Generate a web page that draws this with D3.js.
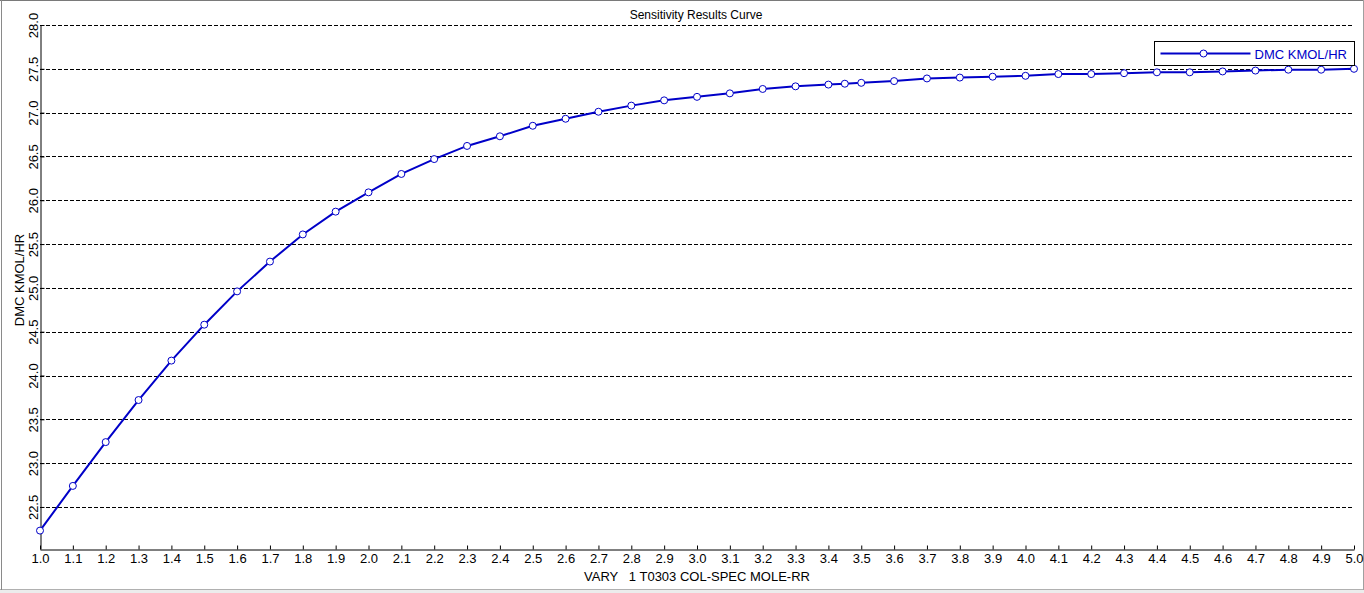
<!DOCTYPE html>
<html>
<head>
<meta charset="utf-8">
<script src="https://cdn.jsdelivr.net/npm/d3@7.9.0/dist/d3.min.js"></script>
<style>
  html, body { margin: 0; padding: 0; background: #fff; }
  svg { display: block; font-family: "Liberation Sans", Arial, sans-serif; }
</style>
</head>
<body>
<svg id="chart" width="1364" height="593"></svg>
<script>
// sensitivity case values
const rr = [1.0, 1.1, 1.2, 1.3, 1.4, 1.5, 1.6, 1.7, 1.8, 1.9,
            2.0, 2.1, 2.2, 2.3, 2.4, 2.5, 2.6, 2.7, 2.8, 2.9,
            3.0, 3.1, 3.2, 3.3, 3.4, 3.45, 3.5, 3.6, 3.7, 3.8, 3.9,
            4.0, 4.1, 4.2, 4.3, 4.4, 4.5, 4.6, 4.7, 4.8, 4.9, 5.0];
const dmc = [22.23, 22.74, 23.24, 23.72, 24.17, 24.58, 24.96, 25.30, 25.61, 25.87,
             26.09, 26.30, 26.47, 26.62, 26.73, 26.85, 26.93, 27.01, 27.08, 27.14,
             27.18, 27.22, 27.27, 27.30, 27.32, 27.33, 27.34, 27.36, 27.39, 27.40, 27.41,
             27.42, 27.44, 27.44, 27.45, 27.46, 27.46, 27.47, 27.48, 27.49, 27.49, 27.50];
const xTicks = d3.range(10, 51).map(d => d / 10);
const yTicks = d3.range(45, 57).map(d => d / 2);

const title = 'Sensitivity Results Curve';
const xLabel = 'VARY   1 T0303 COL-SPEC MOLE-RR';
const yLabel = 'DMC KMOL/HR';
const seriesName = 'DMC KMOL/HR';

const width = 1364, height = 593;
const plot = { left: 40, right: 1354, top: 25, bottom: 549 };
const blue = '#0000c8';

const svg = d3.select('#chart');

// window frame
svg.append('rect').attr('x', 0).attr('y', 589).attr('width', width).attr('height', 4).attr('fill', '#ececec');
svg.append('line').attr('x1', 0).attr('x2', width).attr('y1', 0.5).attr('y2', 0.5).attr('stroke', '#7a7a7a');
svg.append('line').attr('x1', 0).attr('x2', width).attr('y1', 589.5).attr('y2', 589.5).attr('stroke', '#b0b0b0');
svg.append('line').attr('x1', 1.5).attr('x2', 1.5).attr('y1', 0).attr('y2', 590).attr('stroke', '#8a8a8a');
svg.append('line').attr('x1', 1363.5).attr('x2', 1363.5).attr('y1', 0).attr('y2', 590).attr('stroke', '#a0a0a0');

const x = d3.scaleLinear().domain([1.0, 5.0]).range([plot.left, plot.right]);
const y = d3.scaleLinear().domain([22.02, 28.0]).range([plot.bottom, plot.top]);

// dashed grid
svg.append('g')
  .selectAll('line')
  .data(yTicks)
  .join('line')
  .attr('x1', plot.left)
  .attr('x2', plot.right)
  .attr('y1', d => Math.round(y(d)) + 0.5)
  .attr('y2', d => Math.round(y(d)) + 0.5)
  .attr('stroke', '#000')
  .attr('stroke-dasharray', '4,2');

// x axis
const xAxis = svg.append('g')
  .attr('transform', `translate(0, ${plot.bottom + 0.5})`)
  .call(d3.axisBottom(x).tickValues(xTicks).tickFormat(d3.format('.1f'))
    .tickSizeInner(-4).tickSizeOuter(0).tickPadding(4));
xAxis.selectAll('text').attr('font-size', 13).attr('font-family', 'Liberation Sans, Arial, sans-serif').attr('fill', '#000');
xAxis.select('.domain').attr('stroke', '#000');

// y axis
const yAxis = svg.append('g')
  .attr('transform', `translate(${plot.left + 0.5}, 0)`)
  .call(d3.axisLeft(y).tickValues(yTicks).tickFormat(d3.format('.1f'))
    .tickSizeInner(-4).tickSizeOuter(0).tickPadding(4));
yAxis.selectAll('.tick text')
  .attr('x', null).attr('dy', null)
  .attr('text-anchor', 'middle')
  .attr('transform', 'translate(-3, 0) rotate(-90)')
  .attr('font-size', 13)
  .attr('font-family', 'Liberation Sans, Arial, sans-serif')
  .attr('fill', '#000');
yAxis.select('.domain').attr('stroke', '#000');

// title and axis labels
svg.append('text')
  .attr('x', 696).attr('y', 19)
  .attr('text-anchor', 'middle')
  .attr('font-size', 12)
  .text(title);

svg.append('text')
  .attr('x', 697).attr('y', 581)
  .attr('text-anchor', 'middle')
  .attr('font-size', 13)
  .style('white-space', 'pre')
  .text(xLabel);

svg.append('text')
  .attr('transform', 'translate(24, 280) rotate(-90)')
  .attr('text-anchor', 'middle')
  .attr('font-size', 13)
  .text(yLabel);

// series
const pts = rr.map((v, i) => [v, dmc[i]]);

svg.append('path')
  .datum(pts)
  .attr('fill', 'none')
  .attr('stroke', blue)
  .attr('stroke-width', 2)
  .attr('d', d3.line().x(d => x(d[0])).y(d => y(d[1])));

svg.append('g')
  .selectAll('circle')
  .data(pts)
  .join('circle')
  .attr('cx', d => x(d[0]))
  .attr('cy', d => y(d[1]))
  .attr('r', 3.5)
  .attr('fill', '#fff')
  .attr('stroke', blue)
  .attr('stroke-width', 1);

// legend
const lg = svg.append('g').attr('transform', 'translate(1154.5, 41.5)');
lg.append('rect').attr('width', 200).attr('height', 24).attr('fill', '#fff').attr('stroke', '#000');
lg.append('line').attr('x1', 6).attr('x2', 96).attr('y1', 12).attr('y2', 12).attr('stroke', blue).attr('stroke-width', 2);
lg.append('circle').attr('cx', 49).attr('cy', 12).attr('r', 3.5).attr('fill', '#fff').attr('stroke', blue);
lg.append('text').attr('x', 100).attr('y', 17).attr('font-size', 13).attr('fill', blue).text(seriesName);
</script>
</body>
</html>
